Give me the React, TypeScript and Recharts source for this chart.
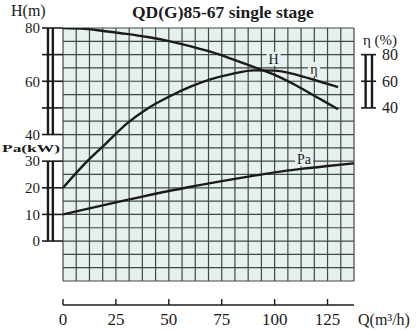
import {
  ComposedChart, Line, XAxis, YAxis, CartesianGrid, ReferenceLine, ReferenceDot,
} from "recharts";

// flow (m3/h) tick labels and the left / right scale labels
const Q_TICKS = [0, 25, 50, 75, 100, 125];
const LEFT_TICKS = [0, 10, 20, 30, 40, 50, 60, 70, 80];
const H_LABELS = [40, 60, 80];
const PA_LABELS = [0, 10, 20, 30];
const ETA_TICKS = [40, 60, 80];

// head curve H(m)
const headQ = [0, 10, 20, 30, 40, 50, 60, 70, 80, 90, 100, 110, 120, 130];
const headH = [80, 79.7, 78.8, 77.8, 76.6, 75.1, 73.2, 71.0, 68.3, 65.4, 62.4, 58.5, 54.0, 49.5];

// efficiency curve η(%)
const etaQ = [0, 10, 20, 30, 40, 50, 60, 70, 80, 90, 100, 110, 120, 130];
const etaPct = [-20, -2.4, 12.8, 28, 39.6, 48.4, 55.8, 61.6, 65.6, 68.2, 68, 65, 60.4, 55.6];

// shaft power Pa(kW)
const powerQ = [0, 12.5, 25, 37.5, 50, 62.5, 75, 87.5, 100, 112.5, 125, 137.5];
const powerKw = [10, 12.3, 14.5, 16.7, 18.8, 20.7, 22.5, 24.2, 25.8, 27.1, 28.2, 29.2];

const headData = headQ.map((q, i) => ({ q, v: headH[i] }));
const etaData = etaQ.map((q, i) => ({ q, v: etaPct[i] }));
const powerData = powerQ.map((q, i) => ({ q, v: powerKw[i] }));

const Q_MAX = 137.5;
const gridX = Array.from({ length: 23 }, (_, i) => i * 6.25);
const gridY = Array.from({ length: 20 }, (_, i) => -15 + i * 5);

const SERIF = "'Liberation Serif', 'DejaVu Serif', serif";
const INK = "#1b1b1b";
const PAPER = "#e6f0ee";

const LeftTick = (props: any) => {
  const { x, y, payload } = props;
  const v = payload.value;
  const show = H_LABELS.includes(v) || PA_LABELS.includes(v);
  return (
    <g>
      <line x1={x - 21} x2={x} y1={y} y2={y} stroke={INK} strokeWidth={1.6} />
      {show && (
        <text x={x - 23} y={y} dy="0.35em" textAnchor="end" fontSize={15}
          fontFamily={SERIF} fill={INK}>{v}</text>
      )}
    </g>
  );
};

const RightTick = (props: any) => {
  const { x, y, payload } = props;
  return (
    <g>
      <line x1={x + 7} x2={x + 22} y1={y} y2={y} stroke={INK} strokeWidth={1.6} />
      <text x={x + 28} y={y} dy="0.35em" textAnchor="start" fontSize={16}
        fontFamily={SERIF} fill={INK}>{payload.value}</text>
    </g>
  );
};

const BottomTick = (props: any) => {
  const { x, y, payload } = props;
  return (
    <g>
      <line x1={x} x2={x} y1={y + 18} y2={y + 24} stroke={INK} strokeWidth={1.4} />
      <text x={x} y={y + 44} textAnchor="middle" fontSize={17}
        fontFamily={SERIF} fill={INK}>{payload.value}</text>
    </g>
  );
};

// curve name on a small paper-coloured patch, like the printed chart
const curveLabel = (text: string, w: number) => ({
  content: (p: any) => {
    const vb = p.viewBox || {};
    const cx = vb.x + (vb.width || 0) / 2;
    const cy = vb.y + (vb.height || 0) / 2;
    return (
      <g>
        <rect x={cx - w / 2} y={cy - 7} width={w} height={14} fill={PAPER} />
        <text x={cx} y={cy} dy="0.35em" textAnchor="middle" fontSize={14}
          fontFamily={SERIF} fill={INK}>{text}</text>
      </g>
    );
  },
});

export default function App() {
  return (
    <div style={{ position: "absolute", left: 0, top: 0, width: 417, height: 330, background: "#fff" }}>
      <ComposedChart width={417} height={330} margin={{ top: 28, right: 0, bottom: 0, left: 0 }}>
        <CartesianGrid
          yAxisId="h"
          horizontalValues={gridY}
          verticalValues={gridX}
          stroke="#3f4947"
          strokeWidth={1.2}
          fill={PAPER}
          fillOpacity={1}
        />
        <XAxis
          dataKey="q" type="number" domain={[0, Q_MAX]} ticks={Q_TICKS} interval={0}
          allowDataOverflow height={49} tickSize={0} tickMargin={0}
          axisLine={false} tickLine={false} tick={<BottomTick />}
        />
        <YAxis
          yAxisId="h" orientation="left" type="number" domain={[-15, 80]} ticks={LEFT_TICKS}
          interval={0} allowDataOverflow width={63} tickSize={0} tickMargin={0}
          axisLine={false} tickLine={false} tick={<LeftTick />}
        />
        <YAxis
          yAxisId="eta" orientation="right" type="number" domain={[-90, 100]} ticks={ETA_TICKS}
          interval={0} allowDataOverflow width={63} tickSize={0} tickMargin={0}
          axisLine={false} tickLine={false} tick={<RightTick />}
        />

        {/* scale bars beside the plot */}
        {[-7.1, -4.8].map((bx) => (
          <ReferenceLine key={"h" + bx} yAxisId="h" ifOverflow="visible" stroke={INK} strokeWidth={2.4}
            segment={[{ x: bx, y: 40 }, { x: bx, y: 80 }]} />
        ))}
        {[-7.1, -4.8].map((bx) => (
          <ReferenceLine key={"p" + bx} yAxisId="h" ifOverflow="visible" stroke={INK} strokeWidth={2.4}
            segment={[{ x: bx, y: 0 }, { x: bx, y: 30 }]} />
        ))}
        {[143, 146].map((bx) => (
          <ReferenceLine key={"e" + bx} yAxisId="eta" ifOverflow="visible" stroke={INK} strokeWidth={2.4}
            segment={[{ x: bx, y: 40 }, { x: bx, y: 80 }]} />
        ))}
        <ReferenceLine yAxisId="h" ifOverflow="visible" stroke={INK} strokeWidth={1.4}
          segment={[{ x: 0, y: -24 }, { x: Q_MAX, y: -24 }]} />

        <Line yAxisId="h" data={headData} dataKey="v" type="monotone" stroke={INK}
          strokeWidth={2.4} dot={false} isAnimationActive={false} />
        <Line yAxisId="eta" data={etaData} dataKey="v" type="monotone" stroke={INK}
          strokeWidth={2.4} dot={false} isAnimationActive={false} />
        <Line yAxisId="h" data={powerData} dataKey="v" type="monotone" stroke={INK}
          strokeWidth={2.4} dot={false} isAnimationActive={false} />

        <ReferenceDot yAxisId="h" x={99.5} y={68.4} r={1} fill="none" stroke="none"
          label={curveLabel("H", 14)} />
        <ReferenceDot yAxisId="eta" x={118.6} y={69.2} r={1} fill="none" stroke="none"
          label={curveLabel("η", 12)} />
        <ReferenceDot yAxisId="h" x={113.9} y={30.8} r={1} fill="none" stroke="none"
          label={curveLabel("Pa", 18)} />
      </ComposedChart>

      <svg width={417} height={330} style={{ position: "absolute", left: 0, top: 0, pointerEvents: "none" }}
        fontFamily={SERIF} fill={INK}>
        <text x={132} y={18} fontSize={17.5} fontWeight="bold">QD(G)85-67 single stage</text>
        <text x={11} y={16} fontSize={16}>H(m)</text>
        <text x={2} y={152} fontSize={11} fontWeight="bold" textLength={58} lengthAdjust="spacingAndGlyphs">Pa(kW)</text>
        <text x={363} y={45} fontSize={15}>η (%)</text>
        <text x={358} y={325} fontSize={16}>Q(m³/h)</text>
      </svg>
    </div>
  );
}
